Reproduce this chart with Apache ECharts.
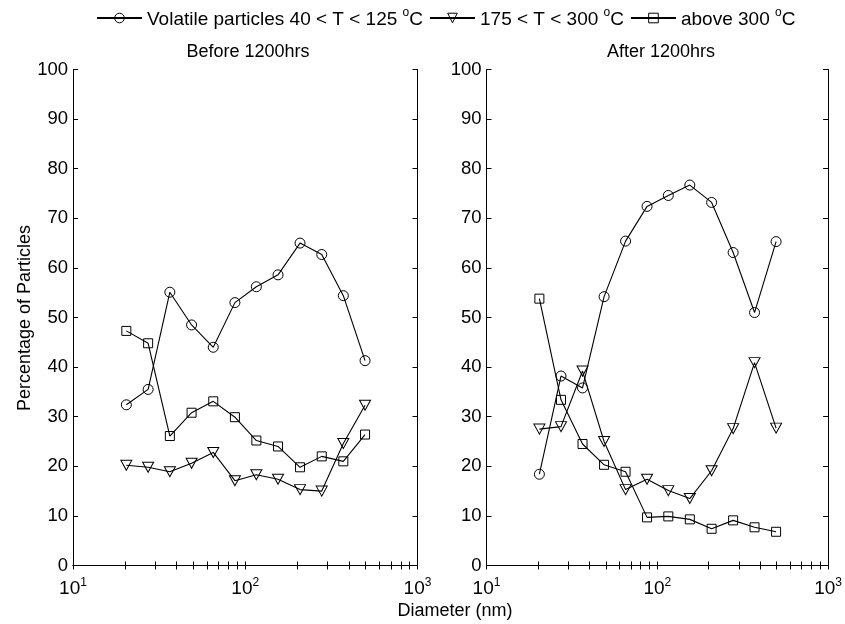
<!DOCTYPE html>
<html>
<head>
<meta charset="utf-8">
<script src="https://cdn.jsdelivr.net/npm/echarts@6/dist/echarts.min.js"></script>
<style>
html,body{margin:0;padding:0;background:#fff;}
#c{width:845px;height:624px;}
</style>
</head>
<body>
<div id="c"></div>
<script>
// Particle diameter (nm) – same channels in both panels
var diameters = [20.4, 27.3, 36.5, 48.8, 65.2, 87.1, 116, 155, 208, 278, 371, 496];

// Before 1200hrs
var beforeVolatile = [32.4, 35.5, 55.1, 48.5, 44.0, 53.0, 56.2, 58.6, 65.0, 62.7, 54.4, 41.3];
var beforeMid      = [20.2, 19.8, 18.9, 20.6, 22.8, 17.1, 18.3, 17.4, 15.3, 15.0, 24.6, 32.3];
var beforeHigh     = [47.3, 44.8, 26.1, 30.8, 33.1, 29.9, 25.2, 24.0, 19.8, 22.0, 21.0, 26.4];

// After 1200hrs
var afterVolatile = [18.4, 38.2, 35.8, 54.2, 65.4, 72.4, 74.6, 76.7, 73.2, 63.1, 51.0, 65.3];
var afterMid      = [27.5, 28.0, 39.2, 25.0, 15.3, 17.4, 15.1, 13.5, 19.1, 27.6, 40.9, 27.7];
var afterHigh     = [53.8, 33.4, 24.5, 20.3, 18.9,  9.7,  9.9,  9.3,  7.4,  9.1,  7.7,  6.8];

var yTicks = [0, 10, 20, 30, 40, 50, 60, 70, 80, 90, 100];
var xLabelTicks = [10, 100, 1000];
var xMinorTicks = [10, 20, 30, 40, 50, 60, 70, 80, 90, 100, 200, 300, 400, 500, 600, 700, 800, 900, 1000];

var seriesNames = ['Volatile particles 40 < T < 125 oC', '175 < T < 300 oC', 'above 300 oC'];
var panelTitles = ['Before 1200hrs', 'After 1200hrs'];

var FONT = "'Liberation Sans', Arial, Helvetica, sans-serif";

function pairs(vals) {
  return diameters.map(function (d, i) { return [d, vals[i]]; });
}

var symbols = [
  {symbol: 'circle', size: 10, rotate: 0},
  {symbol: 'triangle', size: [11, 10], rotate: 180},
  {symbol: 'rect', size: 9, rotate: 0}
];

function makeSeries(name, vals, idx, k) {
  return {
    name: name,
    type: 'line',
    xAxisIndex: idx * 2,
    yAxisIndex: idx * 2,
    data: pairs(vals),
    symbol: symbols[k].symbol,
    symbolSize: symbols[k].size,
    symbolRotate: symbols[k].rotate,
    showAllSymbol: true,
    animation: false,
    lineStyle: {color: '#000', width: 1.1},
    itemStyle: {color: 'rgba(255,255,255,0)', borderColor: '#000', borderWidth: 1},
    emphasis: {disabled: true},
    z: 3
  };
}

var grids = [
  {left: 73, top: 69.5, width: 344.5, height: 496},
  {left: 486.5, top: 69.5, width: 344, height: 496}
];

var xAxes = [], yAxes = [];
[0, 1].forEach(function (g) {
  // bottom
  xAxes.push({
    type: 'log', logBase: 10, min: 10, max: 1000, gridIndex: g, position: 'bottom',
    axisLine: {show: true, lineStyle: {color: '#000', width: 1}},
    axisTick: {show: true, inside: true, length: 4, customValues: xMinorTicks, lineStyle: {color: '#000'}},
    splitLine: {show: false},
    axisLabel: {
      show: true, customValues: xLabelTicks, margin: 11,
      formatter: function (v) { return '{b|10}{s|' + Math.round(Math.log10(v)) + '}'; },
      rich: {
        b: {fontFamily: FONT, fontSize: 19, color: '#000', lineHeight: 22, verticalAlign: 'bottom'},
        s: {fontFamily: FONT, fontSize: 12, color: '#000', lineHeight: 22, verticalAlign: 'top', padding: [0, 0, 11, 0]}
      }
    }
  });
  // top
  xAxes.push({
    type: 'log', logBase: 10, min: 10, max: 1000, gridIndex: g, position: 'top',
    axisLine: {show: true, lineStyle: {color: '#000', width: 1}},
    axisTick: {show: true, inside: true, length: 4, customValues: xMinorTicks, lineStyle: {color: '#000'}},
    splitLine: {show: false},
    axisLabel: {show: false}
  });
  yAxes.push({
    type: 'value', min: 0, max: 100, interval: 10, gridIndex: g, position: 'left',
    axisLine: {show: true, lineStyle: {color: '#000', width: 1}},
    axisTick: {show: true, inside: true, length: 5, lineStyle: {color: '#000'}},
    splitLine: {show: false},
    axisLabel: {show: true, color: '#000', fontFamily: FONT, fontSize: 18.5, margin: 5}
  });
  yAxes.push({
    type: 'value', min: 0, max: 100, interval: 10, gridIndex: g, position: 'right',
    axisLine: {show: true, lineStyle: {color: '#000', width: 1}},
    axisTick: {show: true, inside: true, length: 5, lineStyle: {color: '#000'}},
    splitLine: {show: false},
    axisLabel: {show: false}
  });
});

var series = [
  makeSeries(seriesNames[0], beforeVolatile, 0, 0),
  makeSeries(seriesNames[1], beforeMid, 0, 1),
  makeSeries(seriesNames[2], beforeHigh, 0, 2),
  makeSeries(seriesNames[0], afterVolatile, 1, 0),
  makeSeries(seriesNames[1], afterMid, 1, 1),
  makeSeries(seriesNames[2], afterHigh, 1, 2)
];

var chart = echarts.init(document.getElementById('c'), null, {renderer: 'canvas'});
chart.setOption({
  backgroundColor: '#fff',
  animation: false,
  title: [
    {text: panelTitles[0], left: 243, top: 38, textAlign: 'center',
     textStyle: {fontFamily: FONT, fontSize: 18, fontWeight: 'normal', color: '#000'}},
    {text: panelTitles[1], left: 656, top: 38, textAlign: 'center',
     textStyle: {fontFamily: FONT, fontSize: 18, fontWeight: 'normal', color: '#000'}},
    {text: 'Diameter (nm)', left: 450, top: 597, textAlign: 'center',
     textStyle: {fontFamily: FONT, fontSize: 18, fontWeight: 'normal', color: '#000'}}
  ],
  legend: {
    top: 2, left: 91,
    itemWidth: 45, itemHeight: 12, itemGap: 6,
    data: seriesNames.map(function (n) {
      return {name: n, itemStyle: {color: 'rgba(255,255,255,0)', borderColor: '#000', borderWidth: 1}};
    }),
    selectedMode: false,
    formatter: function (n) {
      var m = n.match(/^(.*?)\s?oC$/);
      return '{t|' + m[1] + ' }{s|o}{t|C}';
    },
    textStyle: {
      fontFamily: FONT, fontSize: 19, color: '#000',
      rich: {
        t: {fontFamily: FONT, fontSize: 19, color: '#000', lineHeight: 22, verticalAlign: 'bottom'},
        s: {fontFamily: FONT, fontSize: 12, color: '#000', lineHeight: 22, verticalAlign: 'top', padding: [0, 0, 9, 0]}
      }
    }
  },
  grid: grids,
  xAxis: xAxes,
  yAxis: yAxes,
  series: series,
  graphic: [
    {type: 'text', x: 25, y: 318, rotation: Math.PI / 2, z: 10,
     style: {text: 'Percentage of Particles', fontFamily: FONT, fontSize: 18, fill: '#000',
             align: 'center', verticalAlign: 'middle'}}
  ]
});
</script>
</body>
</html>
